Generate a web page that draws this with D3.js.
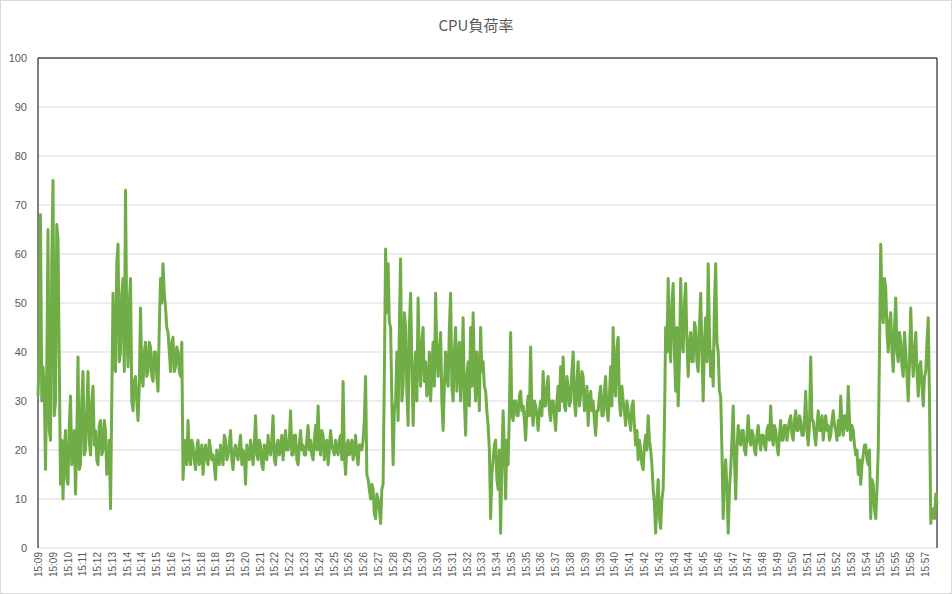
<!DOCTYPE html>
<html><head><meta charset="utf-8">
<script src="https://cdn.jsdelivr.net/npm/d3@7"></script>
<style>body{margin:0;background:#fff}svg{display:block}</style>
</head><body><svg id="c" width="952" height="594"></svg>
<script>
const title = "CPU負荷率";
const timeLabels = ["15:09","15:09","15:10","15:11","15:12","15:13","15:14","15:14","15:15","15:16","15:17","15:18","15:18","15:19","15:20","15:21","15:22","15:22","15:23","15:24","15:25","15:26","15:26","15:27","15:28","15:29","15:30","15:30","15:31","15:32","15:33","15:34","15:35","15:35","15:36","15:37","15:38","15:39","15:39","15:40","15:41","15:42","15:43","15:43","15:44","15:45","15:46","15:47","15:47","15:48","15:49","15:50","15:51","15:51","15:52","15:53","15:54","15:55","15:55","15:56","15:57"];
const labelStep = 11.82;
const yTicks = [0,10,20,30,40,50,60,70,80,90,100];
const cpuLoad = [
31,40,68,30,37,33,16,36,65,24,22,58,75,27,30,66,63,38,13,22,
10,20,24,14,13,25,31,17,20,24,11,22,39,16,17,30,36,19,20,28,
36,22,19,30,33,21,24,18,17,25,26,19,20,26,24,15,16,22,8,30,
52,37,36,58,62,38,40,52,55,36,73,45,37,50,55,30,28,34,35,30,
26,33,49,35,33,40,42,35,36,42,41,35,34,40,40,35,32,45,55,50,
58,52,49,45,44,40,36,42,43,36,37,41,40,36,35,42,14,20,22,17,
26,19,17,22,21,18,16,20,22,17,18,21,15,19,21,18,17,22,20,18,
19,17,14,20,18,17,21,19,17,23,22,18,19,21,24,18,16,20,21,19,
18,21,23,17,20,19,13,21,19,18,22,20,17,21,27,19,18,22,21,17,
16,21,20,18,23,20,19,22,27,18,17,21,22,19,20,23,18,21,24,20,
20,22,28,19,19,23,23,18,17,21,24,20,21,19,19,22,25,20,22,19,
18,22,25,20,29,21,19,24,23,18,21,22,17,20,24,21,20,19,22,20,
19,22,23,18,34,19,15,21,22,19,20,22,18,20,23,19,17,21,21,20,
22,26,35,15,14,12,10,13,12,7,6,11,10,8,5,12,13,35,61,48,
58,46,45,30,17,28,30,40,26,45,59,30,33,48,45,32,25,45,52,38,
25,35,40,30,51,38,33,42,45,34,38,31,32,40,30,36,42,33,52,40,
35,40,44,30,24,33,40,35,33,45,52,33,30,40,45,32,37,42,30,36,
47,30,23,35,38,29,45,33,48,36,30,40,35,28,45,36,38,33,32,28,
25,20,6,15,18,21,22,14,12,20,3,18,28,20,10,22,17,28,44,27,
26,30,30,27,27,31,32,28,29,26,22,28,31,27,41,28,25,30,29,27,
24,28,30,27,36,29,29,33,35,28,26,30,30,27,24,30,33,28,37,30,
39,29,28,35,33,29,30,36,40,30,27,34,38,29,31,36,35,28,29,33,
25,30,32,28,30,26,23,28,28,31,33,27,27,32,35,28,26,31,37,29,
45,33,31,41,43,30,27,33,30,28,25,30,28,26,24,29,30,25,21,24,
18,22,20,17,16,21,23,20,27,22,20,17,12,9,3,10,14,6,4,10,
12,25,45,40,55,42,38,50,54,40,32,45,29,38,55,42,40,50,54,42,
35,42,44,38,38,46,45,38,36,45,52,40,30,42,47,38,58,44,35,40,
33,50,58,42,40,32,31,20,6,15,18,12,3,12,16,22,29,18,10,20,
25,22,21,24,24,20,19,23,27,22,21,24,23,20,19,23,25,22,20,23,
23,21,20,24,25,22,29,23,21,25,24,21,19,23,26,22,22,25,25,22,
24,26,27,23,22,26,28,24,24,27,26,23,23,26,32,24,21,25,39,26,
26,23,21,25,28,24,24,27,22,25,27,24,25,22,23,26,28,25,24,22,
26,23,31,25,23,27,27,24,33,26,22,25,24,21,19,20,15,18,13,17,
19,21,21,18,17,20,6,14,13,8,6,12,20,40,62,50,46,55,53,44,
40,46,48,40,36,45,51,40,38,44,42,37,35,44,40,35,30,38,49,40,
35,40,44,36,31,37,38,33,29,35,36,42,47,30,5,7,8,6,11,9
];

const svg = d3.select("#c");
const L = 38, R = 937, T = 58, B = 548;
svg.append("rect").attr("x",0.5).attr("y",0.5).attr("width",951).attr("height",593).attr("fill","#fff").attr("stroke","#d9d9d9");
const x = d3.scaleLinear().domain([0, cpuLoad.length-1]).range([L, R]);
const y = d3.scaleLinear().domain([0,100]).range([B, T]);

svg.append("text").attr("x",476).attr("y",31).attr("text-anchor","middle")
  .attr("font-family","Noto Sans CJK JP, sans-serif").attr("font-size",15).attr("fill","#595959").text(title);

const g = svg.append("g");
g.selectAll("line.grid").data(yTicks).join("line")
  .attr("x1",L).attr("x2",R).attr("y1",d=>y(d)).attr("y2",d=>y(d))
  .attr("stroke","#d9d9d9").attr("stroke-width",1);
g.selectAll("text.yt").data(yTicks).join("text")
  .attr("x",27).attr("y",d=>y(d)+4).attr("text-anchor","end")
  .attr("font-family","Liberation Sans, Arial, sans-serif").attr("font-size",11).attr("fill","#595959").text(d=>d);

svg.append("line").attr("x1",L).attr("x2",L).attr("y1",T).attr("y2",B).attr("stroke","#000");
svg.append("line").attr("x1",R).attr("x2",R).attr("y1",T).attr("y2",B).attr("stroke","#000");
svg.append("line").attr("x1",L).attr("x2",R).attr("y1",T).attr("y2",T).attr("stroke","#000");

const line = d3.line().x((d,i)=>x(i)).y(d=>y(d));
svg.append("path").datum(cpuLoad).attr("d",line).attr("fill","none")
  .attr("stroke","#70ad47").attr("stroke-width",3).attr("stroke-linejoin","round");

svg.selectAll("text.xt").data(timeLabels).join("text")
  .attr("transform",(d,i)=>`translate(${x(i*labelStep)+4},552) rotate(-90)`)
  .attr("text-anchor","end")
  .attr("font-family","Liberation Sans, Arial, sans-serif").attr("font-size",10).attr("fill","#595959").text(d=>d);
</script></body></html>
